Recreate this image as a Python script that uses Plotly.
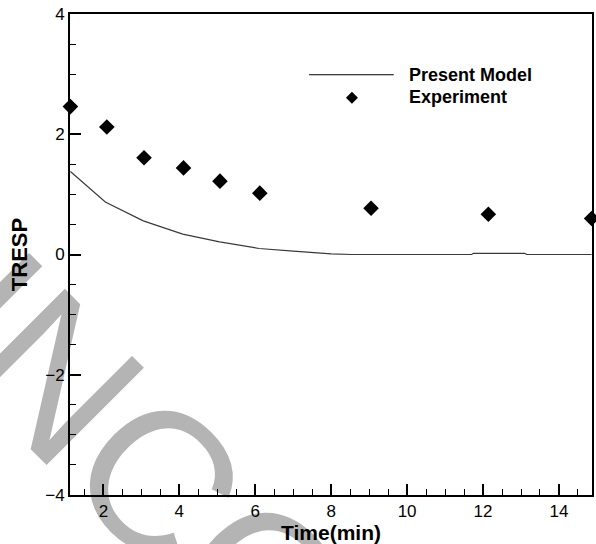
import plotly.graph_objects as go

# ---- data ----
model_time = [1.13, 2.05, 3.05, 4.09, 5.06, 6.1, 7.0, 7.41, 8.0, 8.54, 9.0, 10.0, 11.0, 11.7, 11.75, 13.1, 13.15, 14.0, 14.86]
model_tresp = [1.38, 0.874, 0.56, 0.34, 0.21, 0.10, 0.055, 0.036, 0.01, 0.0, 0.0, 0.0, 0.0, 0.0, 0.02, 0.02, 0.0, 0.0, 0.0]

exp_time = [1.13, 2.09, 3.07, 4.11, 5.07, 6.12, 9.05, 12.14, 14.86]
exp_tresp = [2.46, 2.12, 1.61, 1.44, 1.22, 1.02, 0.77, 0.67, 0.60]

x_ticks = [2, 4, 6, 8, 10, 12, 14]
y_ticks = [-4, -2, 0, 2, 4]
series_names = ["Present Model", "Experiment"]
x_title = "Time(min)"
y_title = "TRESP"
watermark = "UNCORRECTED PROOF"

FONT = "Liberation Sans, Arial, sans-serif"

fig = go.Figure()
fig.add_trace(go.Scatter(x=model_time, y=model_tresp, mode="lines",
                         line=dict(color="#3a3a3a", width=1.2),
                         name=series_names[0], cliponaxis=True))
fig.add_trace(go.Scatter(x=exp_time, y=exp_tresp, mode="markers",
                         marker=dict(symbol="diamond", size=12, color="black"),
                         name=series_names[1], cliponaxis=False))

W, H = 596, 544
ML, MR, MT, MB = 70, 2, 14, 47
PW, PH = W - ML - MR, H - MT - MB


def px2paper(px, py):
    return (px - ML) / PW, (H - MB - py) / PH


shapes = []
annotations = []

# watermark (behind everything)
wx, wy = px2paper(740, 1035)
shapes.append(dict(type="rect", xref="paper", yref="paper",
                   x0=wx - 0.001, x1=wx + 0.001, y0=wy - 0.001, y1=wy + 0.001,
                   line=dict(width=0), fillcolor="rgba(0,0,0,0)", layer="below",
                   label=dict(text=watermark, textangle=45, textposition="middle center",
                              font=dict(family=FONT, size=200, color="#b4b4b4"))))

# legend: line sample
lx0, ly = px2paper(310, 75)
lx1, _ = px2paper(395, 75)
shapes.append(dict(type="line", xref="paper", yref="paper", x0=lx0, x1=lx1, y0=ly, y1=ly,
                   line=dict(color="black", width=1.2)))
# legend: marker sample
mx, my = px2paper(353, 98)
shapes.append(dict(type="path", xref="paper", yref="paper", xsizemode="pixel", ysizemode="pixel",
                   xanchor=mx, yanchor=my, path="M 0 6 L 6 0 L 0 -6 L -6 0 Z",
                   fillcolor="black", line=dict(width=0)))
tx, ty1 = px2paper(408, 75)
_, ty2 = px2paper(408, 97)
annotations.append(dict(xref="paper", yref="paper", x=tx, y=ty1, xanchor="left", yanchor="middle",
                        text=series_names[0], showarrow=False,
                        font=dict(family=FONT, size=18, color="black", weight="bold")))
annotations.append(dict(xref="paper", yref="paper", x=tx, y=ty2, xanchor="left", yanchor="middle",
                        text=series_names[1], showarrow=False,
                        font=dict(family=FONT, size=18, color="black", weight="bold")))

axis_common = dict(showgrid=False, zeroline=False, showline=True, linecolor="black", linewidth=2,
                   mirror=True, ticks="inside", ticklen=11, tickwidth=1.5, tickcolor="black",
                   tickfont=dict(family=FONT, size=17, color="black"))

fig.update_layout(
    width=W, height=H, margin=dict(l=ML, r=MR, t=MT, b=MB),
    paper_bgcolor="white", plot_bgcolor="white", showlegend=False,
    font=dict(family=FONT, color="black"),
    shapes=shapes, annotations=annotations,
    xaxis=dict(range=[1.12, 14.87], tickvals=x_ticks,
               minor=dict(dtick=0.5, tick0=0, ticks="inside", ticklen=6, tickwidth=1.2, tickcolor="black"),
               title=dict(text=x_title, font=dict(family=FONT, size=21, weight="bold"), standoff=6),
               **axis_common),
    yaxis=dict(range=[-4, 4], tickvals=y_ticks,
               minor=dict(dtick=0.5, tick0=0, ticks="inside", ticklen=6, tickwidth=1.2, tickcolor="black"),
               title=dict(text=y_title, font=dict(family=FONT, size=22, weight="bold"), standoff=12),
               **axis_common),
)

fig.write_html("out.html")
